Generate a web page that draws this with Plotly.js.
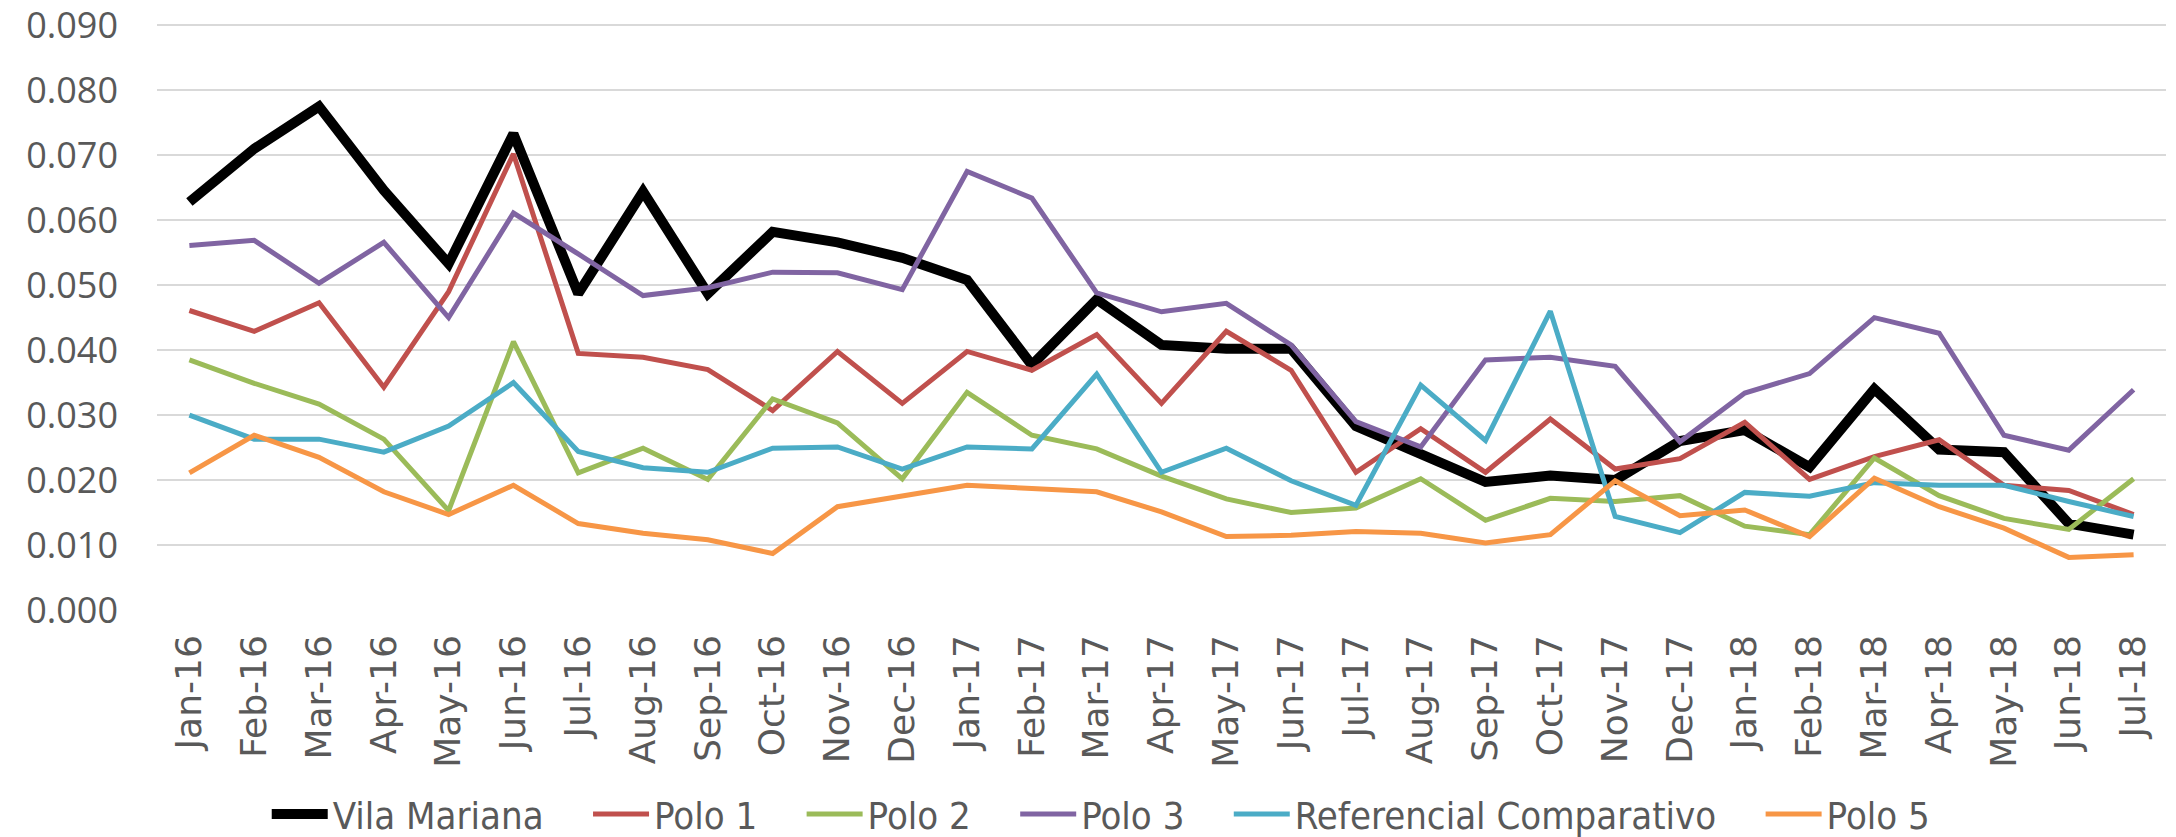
<!DOCTYPE html>
<html>
<head>
<meta charset="utf-8">
<script src="https://cdn.plot.ly/plotly-3.0.1.min.js"></script>
<style>
  html, body { margin: 0; padding: 0; background: #fff; }
  #chart { width: 2176px; height: 837px; }
</style>
</head>
<body>
<div id="chart"></div>
<script>
// months on the category axis
const months = [
  'Jan-16','Feb-16','Mar-16','Apr-16','May-16','Jun-16','Jul-16','Aug-16','Sep-16','Oct-16','Nov-16','Dec-16',
  'Jan-17','Feb-17','Mar-17','Apr-17','May-17','Jun-17','Jul-17','Aug-17','Sep-17','Oct-17','Nov-17','Dec-17',
  'Jan-18','Feb-18','Mar-18','Apr-18','May-18','Jun-18','Jul-18'
];

// y axis ticks
const yTicks = [0, 0.01, 0.02, 0.03, 0.04, 0.05, 0.06, 0.07, 0.08, 0.09];
const yTickText = ['0.000','0.010','0.020','0.030','0.040','0.050','0.060','0.070','0.080','0.090'];

// values
const vilaMariana = [
  0.0628,0.0710,0.0775,0.0646,0.0533,0.0733,0.0487,0.0644,0.0487,0.0582,0.0566,0.0542,
  0.0508,0.0377,0.0478,0.0408,0.0402,0.0402,0.0283,0.0242,0.0197,0.0207,0.0200,0.0260,
  0.0277,0.0220,0.0340,0.0247,0.0243,0.0133,0.0116
];
const polo1 = [
  0.0461,0.0429,0.0473,0.0343,0.0490,0.0702,0.0395,0.0389,0.0370,0.0307,0.0398,0.0318,
  0.0398,0.0369,0.0424,0.0318,0.0429,0.0369,0.0212,0.0279,0.0212,0.0294,0.0217,0.0233,
  0.0289,0.0201,0.0236,0.0262,0.0192,0.0184,0.0147
];
const polo2 = [
  0.0385,0.0349,0.0317,0.0263,0.0153,0.0413,0.0211,0.0249,0.0201,0.0325,0.0288,0.0202,
  0.0335,0.0269,0.0248,0.0206,0.0171,0.0150,0.0157,0.0202,0.0138,0.0172,0.0167,0.0176,
  0.0129,0.0116,0.0234,0.0176,0.0141,0.0124,0.0202
];
const polo3 = [
  0.0561,0.0569,0.0503,0.0566,0.0450,0.0611,0.0548,0.0484,0.0496,0.0520,0.0519,0.0493,
  0.0675,0.0634,0.0488,0.0459,0.0472,0.0408,0.0290,0.0251,0.0385,0.0389,0.0375,0.0259,
  0.0334,0.0364,0.0450,0.0426,0.0269,0.0246,0.0339
];
const referencial = [
  0.0300,0.0263,0.0263,0.0243,0.0283,0.0350,0.0244,0.0219,0.0212,0.0249,0.0251,0.0217,
  0.0251,0.0248,0.0363,0.0212,0.0249,0.0199,0.0161,0.0346,0.0261,0.0460,0.0144,0.0119,
  0.0181,0.0175,0.0196,0.0192,0.0192,0.0167,0.0144
];
const polo5 = [
  0.0211,0.0269,0.0235,0.0182,0.0147,0.0192,0.0133,0.0118,0.0108,0.0087,0.0159,0.0175,
  0.0192,0.0187,0.0182,0.0151,0.0113,0.0115,0.0121,0.0118,0.0103,0.0116,0.0199,0.0145,
  0.0154,0.0113,0.0203,0.0159,0.0126,0.0081,0.0085
];

const series = [
  { name: 'Vila Mariana', y: vilaMariana, color: '#000000', width: 10 },
  { name: 'Polo 1', y: polo1, color: '#C0504D', width: 5 },
  { name: 'Polo 2', y: polo2, color: '#9BBB59', width: 5 },
  { name: 'Polo 3', y: polo3, color: '#8064A2', width: 5 },
  { name: 'Referencial Comparativo', y: referencial, color: '#4BACC6', width: 5 },
  { name: 'Polo 5', y: polo5, color: '#F79646', width: 5 }
];

// extra room after each legend entry except the last one (Excel spacing is wider)
const pad = '\u00a0\u00a0\u00a0\u2009';

const traces = series.map((s, i) => ({
  x: months,
  y: s.y,
  name: i < series.length - 1 ? s.name + pad : s.name,
  type: 'scatter',
  mode: 'lines',
  line: { color: s.color, width: s.width }
}));

const textColor = '#595959';

const layout = {
  width: 2176,
  height: 837,
  margin: { l: 157, r: 10, t: 24, b: 227 },
  paper_bgcolor: '#ffffff',
  plot_bgcolor: '#ffffff',
  showlegend: true,
  legend: {
    orientation: 'h',
    x: 0.47,
    xanchor: 'center',
    yref: 'container',
    y: 0.027,
    yanchor: 'middle',
    itemwidth: 56,
    font: { family: 'DejaVu Sans Condensed, Liberation Sans Narrow, sans-serif', size: 38, color: textColor }
  },
  xaxis: {
    type: 'category',
    range: [-0.5, 30.5],
    automargin: false,
    tickangle: -90,
    showgrid: false,
    zeroline: false,
    showline: false,
    ticks: '',
    ticklabelstandoff: 17,
    tickfont: { family: 'DejaVu Sans, sans-serif', size: 36, color: textColor }
  },
  yaxis: {
    range: [0, 0.0902],
    tickvals: yTicks,
    ticktext: yTickText,
    ticklabeloverflow: 'allow',
    automargin: false,
    showgrid: true,
    gridcolor: '#D9D9D9',
    gridwidth: 2,
    zeroline: false,
    showline: false,
    ticks: '',
    ticklabelstandoff: 38,
    tickfont: { family: 'Open Sans, sans-serif', size: 36, color: textColor }
  }
};

Plotly.newPlot('chart', traces, layout, { displayModeBar: false, staticPlot: true });
</script>
</body>
</html>
